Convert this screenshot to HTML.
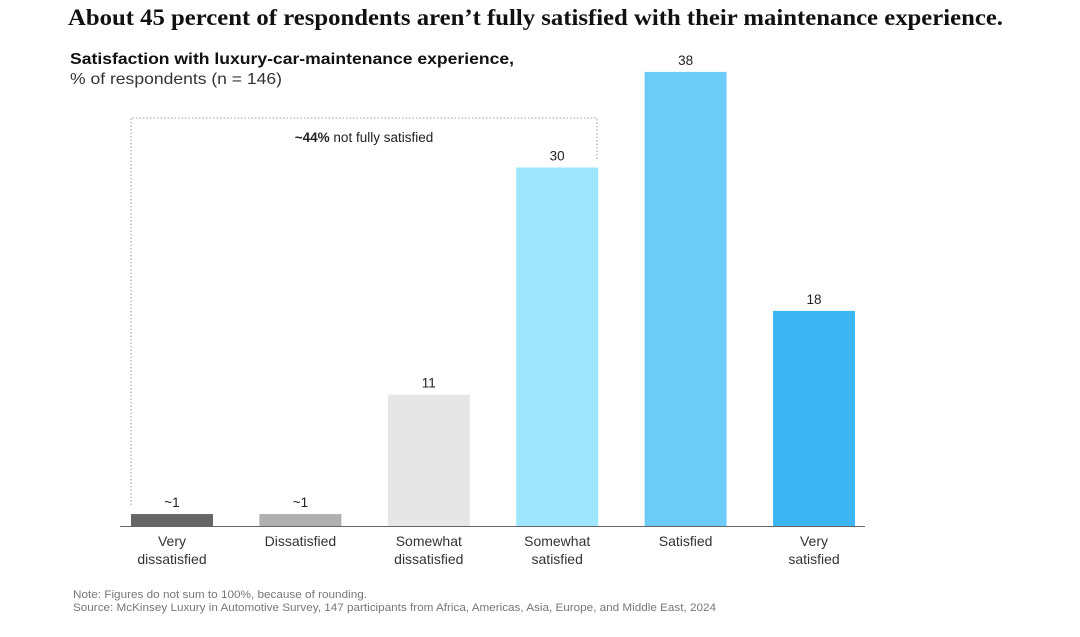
<!DOCTYPE html>
<html><head><meta charset="utf-8"><style>
body{margin:0;background:#fff;width:1080px;height:632px;overflow:hidden;font-family:"Liberation Sans",sans-serif}
</style></head><body>
<svg width="1080" height="632">
<text x="68" y="25" font-family="Liberation Serif,serif" font-weight="bold" font-size="23" fill="#111" textLength="935" lengthAdjust="spacingAndGlyphs">About 45 percent of respondents aren’t fully satisfied with their maintenance experience.</text>
<text x="70" y="64" font-weight="bold" font-size="16" fill="#111" textLength="444" lengthAdjust="spacingAndGlyphs">Satisfaction with luxury-car-maintenance experience,</text>
<text x="70" y="84" font-size="16" fill="#333" textLength="212" lengthAdjust="spacingAndGlyphs">% of respondents (n = 146)</text>
<path d="M131,505 V118 H597 V160" fill="none" stroke="#999" stroke-width="1" stroke-dasharray="1.5,2"/>
<text x="364" y="142" text-anchor="middle" font-size="13.5" fill="#222"><tspan font-weight="bold">~44%</tspan> not fully satisfied</text>
<g id="bars"></g>
<line x1="120" y1="526.5" x2="865" y2="526.5" stroke="#666" stroke-width="1"/>
<text x="73" y="598" font-size="11" fill="#777" textLength="294" lengthAdjust="spacingAndGlyphs">Note: Figures do not sum to 100%, because of rounding.</text>
<text x="73" y="611" font-size="11" fill="#777" textLength="643" lengthAdjust="spacingAndGlyphs">Source: McKinsey Luxury in Automotive Survey, 147 participants from Africa, Americas, Asia, Europe, and Middle East, 2024</text>
</svg>
<script>
const categories=[["Very","dissatisfied"],["Dissatisfied"],["Somewhat","dissatisfied"],["Somewhat","satisfied"],["Satisfied"],["Very","satisfied"]];
const values=[1,1,11,30,38,18];
const valueLabels=["~1","~1","11","30","38","18"];
const colors=["#666666","#b0b0b0","#e6e6e6","#9ee6fd","#6ccbf7","#3db5f2"];
const g=document.getElementById('bars');
const NS="http://www.w3.org/2000/svg";
const base=526, scale=11.95, x0=131, step=128.4, bw=82;
const yS=v=>base-v*scale;
values.forEach((v,i)=>{
  const x=x0+i*step;
  const r=document.createElementNS(NS,'rect');
  
  
  r.setAttribute('x',x);r.setAttribute('y',yS(v));r.setAttribute('width',bw);r.setAttribute('height',base-yS(v));r.setAttribute('fill',colors[i]);
  g.appendChild(r);
  const t=document.createElementNS(NS,'text');
  
  
  t.setAttribute('x',x+bw/2);t.setAttribute('y',yS(v)-7);t.setAttribute('text-anchor','middle');t.setAttribute('font-size','13.5');t.setAttribute('fill','#222');
  t.textContent=valueLabels[i];g.appendChild(t);
  categories[i].forEach((line,j)=>{
    const c=document.createElementNS(NS,'text');
    
    
    c.setAttribute('x',x+bw/2);c.setAttribute('y',546+j*18);c.setAttribute('text-anchor','middle');c.setAttribute('font-size','14');c.setAttribute('fill','#333');
    c.textContent=line;g.appendChild(c);
  });
});
</script>
</body></html>
